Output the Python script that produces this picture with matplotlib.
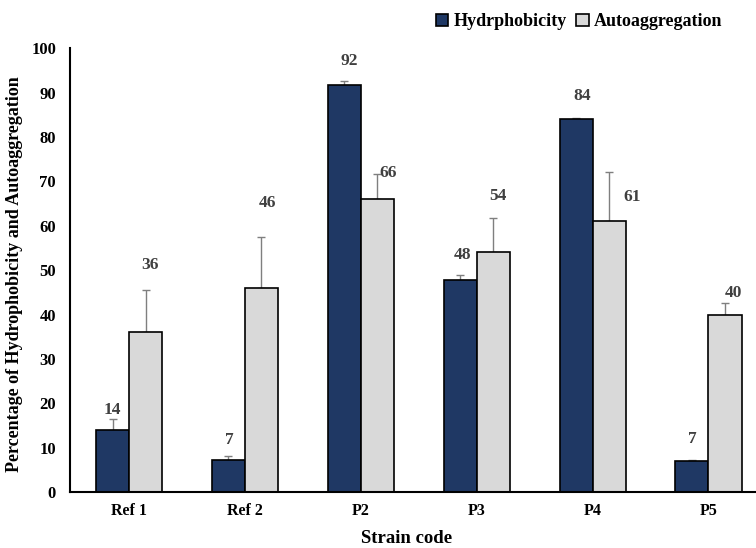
import matplotlib.pyplot as plt
import numpy as np

plt.rcParams['font.family'] = ['Liberation Serif', 'DejaVu Serif']
plt.rcParams['font.weight'] = 'bold'

# Data
strains = ["Ref 1", "Ref 2", "P2", "P3", "P4", "P5"]
hydro = [14.0, 7.2, 91.7, 47.8, 84.0, 7.0]
hydro_err = [2.4, 0.9, 1.0, 1.0, 0.3, 0.3]
auto = [36.0, 46.0, 66.0, 54.0, 61.0, 40.0]
auto_err = [9.5, 11.4, 5.6, 7.8, 11.1, 2.5]
hydro_labels = ["14", "7", "92", "48", "84", "7"]
auto_labels = ["36", "46", "66", "54", "61", "40"]

# label placement (data units), tuned by eye
hydro_lab_y = [18.5, 11.7, 97.1, 53.4, 89.2, 11.9]
hydro_lab_dx = [0.0, 0.01, 0.04, 0.02, 0.05, 0.0]
auto_lab_y = [51.1, 65.1, 71.8, 66.7, 66.4, 44.8]
auto_lab_dx = [0.04, 0.05, 0.09, 0.04, 0.2, 0.07]

navy = "#1F3864"
grey = "#D9D9D9"
w = 0.285
x = np.arange(len(strains))

fig = plt.figure(figsize=(7.56, 5.48), dpi=100)
ax = fig.add_axes([0.0926, 0.102, 0.9074, 0.81])

ax.bar(x - w/2, hydro, w, color=navy, edgecolor="black", linewidth=1.2,
       label="Hydrphobicity", zorder=2)
ax.bar(x + w/2, auto, w, color=grey, edgecolor="black", linewidth=1.2,
       label="Autoaggregation", zorder=2)

# upper error bars only
ax.errorbar(x - w/2, hydro, yerr=[np.zeros(len(x)), hydro_err], fmt="none",
            ecolor="#7f7f7f", elinewidth=1, capsize=3, capthick=1, zorder=1)
ax.errorbar(x + w/2, auto, yerr=[np.zeros(len(x)), auto_err], fmt="none",
            ecolor="#7f7f7f", elinewidth=1, capsize=3, capthick=1, zorder=1)

for i in range(len(x)):
    ax.text(x[i] - w/2 + hydro_lab_dx[i], hydro_lab_y[i], hydro_labels[i],
            ha="center", va="center", fontsize=12.5, fontweight="bold", color="#404040")
    ax.text(x[i] + w/2 + auto_lab_dx[i], auto_lab_y[i], auto_labels[i],
            ha="center", va="center", fontsize=12.5, fontweight="bold", color="#404040")

ax.set_xlim(-0.51, 5.41)
ax.set_ylim(0, 100)
ax.set_yticks(range(0, 101, 10))
ax.set_xticks(x)
ax.set_xticklabels(strains, fontsize=11.5, fontweight="bold")
ax.tick_params(axis="x", length=0, pad=8)
ax.tick_params(axis="y", labelsize=12, length=0, pad=10)
for lab in ax.get_yticklabels():
    lab.set_fontweight("bold")

ax.spines["top"].set_visible(False)
ax.spines["right"].set_visible(False)
ax.spines["left"].set_linewidth(1.5)
ax.spines["bottom"].set_linewidth(1.5)

ax.set_xlabel("Strain code", fontsize=13.5, fontweight="bold")
ax.xaxis.set_label_coords(0.49, -0.086)
ax.set_ylabel("Percentage of Hydrophobicity and Autoaggregation", fontsize=13,
              fontweight="bold")
ax.yaxis.set_label_coords(-0.068, 0.49)

ax.legend(loc="upper right", bbox_to_anchor=(0.975, 1.115), ncol=2, frameon=False,
          fontsize=13, handlelength=0.7, handleheight=0.7, handletextpad=0.3,
          columnspacing=0.5)

fig.savefig("out.png", dpi=100)
